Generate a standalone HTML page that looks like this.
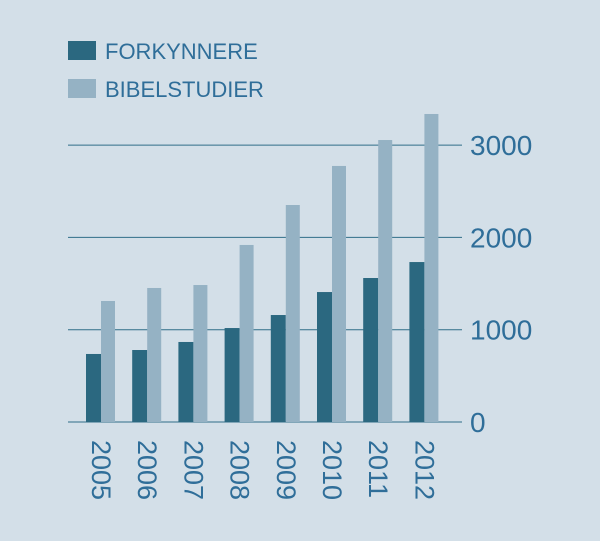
<!DOCTYPE html>
<html><head><meta charset="utf-8"><style>
body{margin:0;background:#d3dfe8;}
svg{display:block;font-family:"Liberation Sans",sans-serif;}
</style></head><body>
<svg width="600" height="541">
<rect width="600" height="541" fill="#d3dfe8"/>
<g>
<rect x="68" y="41" width="28" height="19" fill="#2b6880"/>
<text x="105" y="59" font-size="22" fill="#2f6e99">FORKYNNERE</text>
<rect x="68" y="79" width="28" height="19" fill="#95b2c4"/>
<text x="105" y="97" font-size="22" fill="#2f6e99">BIBELSTUDIER</text>
</g>
<g id="grid"></g><g id="bars"></g><g id="labels"></g>
</svg>
<script>
const years=["2005","2006","2007","2008","2009","2010","2011","2012"];
const forkynnere=[737,780,867,1018,1159,1408,1560,1733];
const bibelstudier=[1311,1452,1484,1918,2351,2774,3055,3337];
const ticks=[0,1000,2000,3000];
const NS="http://www.w3.org/2000/svg";
function y(v){return 422-v*0.0923;}
function x(i){return 86+i*46.2;}
function mk(t,a,p){const e=document.createElementNS(NS,t);for(const k in a)e.setAttribute(k,a[k]);p.appendChild(e);return e;}
const grid=document.getElementById('grid'),bars=document.getElementById('bars'),labels=document.getElementById('labels');
ticks.forEach(t=>{
 const l=mk('line',{x1:68,x2:462,y1:y(t),y2:y(t),stroke:'#2f6e88','stroke-width':1},grid);
 
 
 const tx=mk('text',{x:470,y:y(t)+10,'font-size':28,fill:'#2f6e99'},labels);
 tx.textContent=t;
 
 
});
years.forEach((yr,i)=>{
 const a=mk('rect',{x:x(i),y:y(forkynnere[i]),width:15,height:422-y(forkynnere[i]),fill:'#2b6880'},bars);
 
 
 const b=mk('rect',{x:x(i)+15,y:y(bibelstudier[i]),width:14,height:422-y(bibelstudier[i]),fill:'#95b2c4'},bars);
 
 
 const cx=x(i)+6,cy=440;
 const t=mk('text',{x:cx,y:cy,'font-size':27,fill:'#2f6e99',transform:'rotate(90 '+cx+' '+cy+')'},labels);
 t.textContent=yr;
 
 
});
</script>
</body></html>
